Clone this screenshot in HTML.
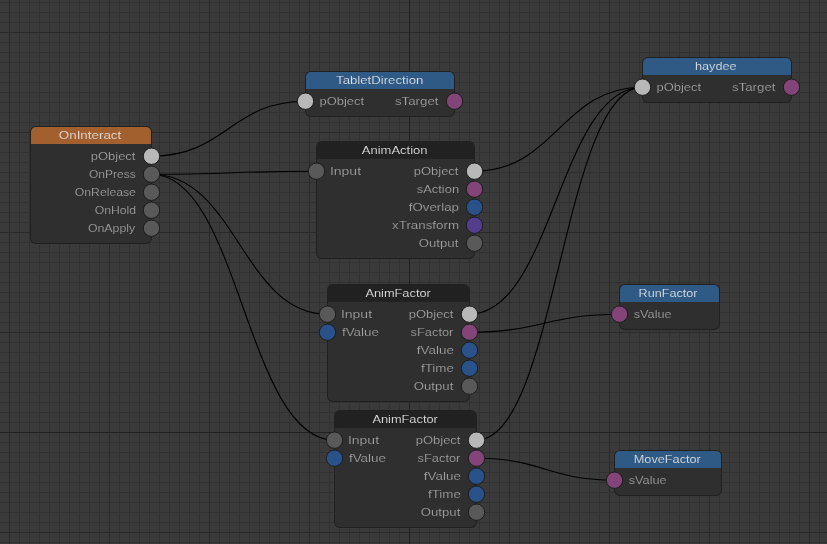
<!DOCTYPE html>
<html><head><meta charset="utf-8"><style>
html,body{margin:0;padding:0;width:827px;height:544px;overflow:hidden;background:#3a3a3a}
</style></head><body>
<svg width="827" height="544" viewBox="0 0 827 544" style="position:absolute;left:0;top:0;will-change:transform;font-family:'Liberation Sans',sans-serif;font-size:11.5px">
<rect width="827" height="544" fill="#3a3a3a"/>
<path d="M19 0h1v544h-1zM29 0h1v544h-1zM39 0h1v544h-1zM49 0h1v544h-1zM59 0h1v544h-1zM69 0h1v544h-1zM79 0h1v544h-1zM89 0h1v544h-1zM99 0h1v544h-1zM119 0h1v544h-1zM129 0h1v544h-1zM139 0h1v544h-1zM149 0h1v544h-1zM159 0h1v544h-1zM169 0h1v544h-1zM179 0h1v544h-1zM189 0h1v544h-1zM199 0h1v544h-1zM219 0h1v544h-1zM229 0h1v544h-1zM239 0h1v544h-1zM249 0h1v544h-1zM259 0h1v544h-1zM269 0h1v544h-1zM279 0h1v544h-1zM289 0h1v544h-1zM299 0h1v544h-1zM319 0h1v544h-1zM329 0h1v544h-1zM339 0h1v544h-1zM349 0h1v544h-1zM359 0h1v544h-1zM369 0h1v544h-1zM379 0h1v544h-1zM389 0h1v544h-1zM399 0h1v544h-1zM419 0h1v544h-1zM429 0h1v544h-1zM439 0h1v544h-1zM449 0h1v544h-1zM459 0h1v544h-1zM469 0h1v544h-1zM479 0h1v544h-1zM489 0h1v544h-1zM499 0h1v544h-1zM519 0h1v544h-1zM529 0h1v544h-1zM539 0h1v544h-1zM549 0h1v544h-1zM559 0h1v544h-1zM569 0h1v544h-1zM579 0h1v544h-1zM589 0h1v544h-1zM599 0h1v544h-1zM619 0h1v544h-1zM629 0h1v544h-1zM639 0h1v544h-1zM649 0h1v544h-1zM659 0h1v544h-1zM669 0h1v544h-1zM679 0h1v544h-1zM689 0h1v544h-1zM699 0h1v544h-1zM719 0h1v544h-1zM729 0h1v544h-1zM739 0h1v544h-1zM749 0h1v544h-1zM759 0h1v544h-1zM769 0h1v544h-1zM779 0h1v544h-1zM789 0h1v544h-1zM799 0h1v544h-1zM819 0h1v544h-1zM0 2h827v1h-827zM0 12h827v1h-827zM0 22h827v1h-827zM0 42h827v1h-827zM0 52h827v1h-827zM0 62h827v1h-827zM0 72h827v1h-827zM0 82h827v1h-827zM0 92h827v1h-827zM0 102h827v1h-827zM0 112h827v1h-827zM0 122h827v1h-827zM0 142h827v1h-827zM0 152h827v1h-827zM0 162h827v1h-827zM0 172h827v1h-827zM0 182h827v1h-827zM0 192h827v1h-827zM0 202h827v1h-827zM0 212h827v1h-827zM0 222h827v1h-827zM0 242h827v1h-827zM0 252h827v1h-827zM0 262h827v1h-827zM0 272h827v1h-827zM0 282h827v1h-827zM0 292h827v1h-827zM0 302h827v1h-827zM0 312h827v1h-827zM0 322h827v1h-827zM0 342h827v1h-827zM0 352h827v1h-827zM0 362h827v1h-827zM0 372h827v1h-827zM0 382h827v1h-827zM0 392h827v1h-827zM0 402h827v1h-827zM0 412h827v1h-827zM0 422h827v1h-827zM0 442h827v1h-827zM0 452h827v1h-827zM0 462h827v1h-827zM0 472h827v1h-827zM0 482h827v1h-827zM0 492h827v1h-827zM0 502h827v1h-827zM0 512h827v1h-827zM0 522h827v1h-827zM0 542h827v1h-827z" fill="#313131"/>
<path d="M9 0h1v544h-1zM109 0h1v544h-1zM209 0h1v544h-1zM309 0h1v544h-1zM509 0h1v544h-1zM609 0h1v544h-1zM709 0h1v544h-1zM809 0h1v544h-1zM0 32h827v1h-827zM0 132h827v1h-827zM0 232h827v1h-827zM0 332h827v1h-827zM0 532h827v1h-827z" fill="#292929"/>
<path d="M409 0h1v544h-1zM0 432h827v1h-827z" fill="#202020"/>
<path d="M151.5,156.20 C225.42,156.20 231.58,101.20 305.5,101.20" fill="none" stroke="#000000" stroke-width="1.15"/>
<path d="M151.5,174.20 C230.70,174.20 237.30,171.20 316.5,171.20" fill="none" stroke="#000000" stroke-width="1.15"/>
<path d="M151.5,174.20 C235.98,174.20 243.02,314.20 327.5,314.20" fill="none" stroke="#000000" stroke-width="1.15"/>
<path d="M151.5,174.20 C239.34,174.20 246.66,440.20 334.5,440.20" fill="none" stroke="#000000" stroke-width="1.15"/>
<path d="M474.5,171.20 C555.14,171.20 561.86,87.20 642.5,87.20" fill="none" stroke="#000000" stroke-width="1.15"/>
<path d="M469.5,314.20 C552.54,314.20 559.46,87.20 642.5,87.20" fill="none" stroke="#000000" stroke-width="1.15"/>
<path d="M476.5,440.20 C556.18,440.20 562.82,87.20 642.5,87.20" fill="none" stroke="#000000" stroke-width="1.15"/>
<path d="M469.5,332.20 C541.50,332.20 547.50,314.20 619.5,314.20" fill="none" stroke="#000000" stroke-width="1.15"/>
<path d="M476.5,458.20 C542.74,458.20 548.26,480.20 614.5,480.20" fill="none" stroke="#000000" stroke-width="1.15"/>
<rect x="30" y="126" width="122" height="118" rx="6" fill="#202020"/>
<rect x="31" y="127" width="120" height="116" rx="5" fill="#2f2f2f"/>
<path d="M31,144 V132 A5,5 0 0 1 36,127 H146 A5,5 0 0 1 151,132 V144 Z" fill="#a3602f"/>
<text x="58.80" y="139.10" textLength="62.45" lengthAdjust="spacingAndGlyphs" fill="#e2e2e2" stroke="#a3602f" stroke-width="0.15">OnInteract</text>
<text x="90.75" y="160.05" textLength="44.7" lengthAdjust="spacingAndGlyphs" fill="#a2a2a2" stroke="#2f2f2f" stroke-width="0.15">pObject</text>
<text x="88.90" y="178.05" textLength="46.85" lengthAdjust="spacingAndGlyphs" fill="#a2a2a2" stroke="#2f2f2f" stroke-width="0.15">OnPress</text>
<text x="74.85" y="196.05" textLength="61.05" lengthAdjust="spacingAndGlyphs" fill="#a2a2a2" stroke="#2f2f2f" stroke-width="0.15">OnRelease</text>
<text x="94.70" y="214.05" textLength="41.4" lengthAdjust="spacingAndGlyphs" fill="#a2a2a2" stroke="#2f2f2f" stroke-width="0.15">OnHold</text>
<text x="87.90" y="232.05" textLength="47.35" lengthAdjust="spacingAndGlyphs" fill="#a2a2a2" stroke="#2f2f2f" stroke-width="0.15">OnApply</text>
<circle cx="151.5" cy="156.20" r="8.2" fill="#b8b8b8" stroke="#1c1c1c" stroke-width="1.0"/>
<circle cx="151.5" cy="174.20" r="8.2" fill="#595959" stroke="#1c1c1c" stroke-width="1.0"/>
<circle cx="151.5" cy="192.20" r="8.2" fill="#595959" stroke="#1c1c1c" stroke-width="1.0"/>
<circle cx="151.5" cy="210.20" r="8.2" fill="#595959" stroke="#1c1c1c" stroke-width="1.0"/>
<circle cx="151.5" cy="228.20" r="8.2" fill="#595959" stroke="#1c1c1c" stroke-width="1.0"/>
<rect x="305" y="71" width="150" height="46" rx="6" fill="#202020"/>
<rect x="306" y="72" width="148" height="44" rx="5" fill="#2f2f2f"/>
<path d="M306,89 V77 A5,5 0 0 1 311,72 H449 A5,5 0 0 1 454,77 V89 Z" fill="#2e5a85"/>
<text x="336.05" y="84.10" textLength="87.3" lengthAdjust="spacingAndGlyphs" fill="#e2e2e2" stroke="#2e5a85" stroke-width="0.15">TabletDirection</text>
<text x="319.45" y="105.05" textLength="44.7" lengthAdjust="spacingAndGlyphs" fill="#a2a2a2" stroke="#2f2f2f" stroke-width="0.15">pObject</text>
<text x="395.00" y="105.05" textLength="43.45" lengthAdjust="spacingAndGlyphs" fill="#a2a2a2" stroke="#2f2f2f" stroke-width="0.15">sTarget</text>
<circle cx="305.5" cy="101.20" r="8.2" fill="#b8b8b8" stroke="#1c1c1c" stroke-width="1.0"/>
<circle cx="454.5" cy="101.20" r="8.2" fill="#834479" stroke="#1c1c1c" stroke-width="1.0"/>
<rect x="642" y="57" width="150" height="46" rx="6" fill="#202020"/>
<rect x="643" y="58" width="148" height="44" rx="5" fill="#2f2f2f"/>
<path d="M643,75 V63 A5,5 0 0 1 648,58 H786 A5,5 0 0 1 791,63 V75 Z" fill="#2e5a85"/>
<text x="694.95" y="70.10" textLength="41.6" lengthAdjust="spacingAndGlyphs" fill="#e2e2e2" stroke="#2e5a85" stroke-width="0.15">haydee</text>
<text x="656.45" y="91.05" textLength="44.7" lengthAdjust="spacingAndGlyphs" fill="#a2a2a2" stroke="#2f2f2f" stroke-width="0.15">pObject</text>
<text x="732.00" y="91.05" textLength="43.45" lengthAdjust="spacingAndGlyphs" fill="#a2a2a2" stroke="#2f2f2f" stroke-width="0.15">sTarget</text>
<circle cx="642.5" cy="87.20" r="8.2" fill="#b8b8b8" stroke="#1c1c1c" stroke-width="1.0"/>
<circle cx="791.5" cy="87.20" r="8.2" fill="#834479" stroke="#1c1c1c" stroke-width="1.0"/>
<rect x="316" y="141" width="159" height="118" rx="6" fill="#202020"/>
<rect x="317" y="142" width="157" height="116" rx="5" fill="#2f2f2f"/>
<path d="M317,159 V147 A5,5 0 0 1 322,142 H469 A5,5 0 0 1 474,147 V159 Z" fill="#212121"/>
<text x="361.80" y="154.10" textLength="65.7" lengthAdjust="spacingAndGlyphs" fill="#e2e2e2" stroke="#212121" stroke-width="0.15">AnimAction</text>
<text x="329.95" y="175.05" textLength="31.1" lengthAdjust="spacingAndGlyphs" fill="#a2a2a2" stroke="#2f2f2f" stroke-width="0.15">Input</text>
<text x="413.75" y="175.05" textLength="44.7" lengthAdjust="spacingAndGlyphs" fill="#a2a2a2" stroke="#2f2f2f" stroke-width="0.15">pObject</text>
<text x="416.70" y="193.05" textLength="42.4" lengthAdjust="spacingAndGlyphs" fill="#a2a2a2" stroke="#2f2f2f" stroke-width="0.15">sAction</text>
<text x="408.75" y="211.05" textLength="50.2" lengthAdjust="spacingAndGlyphs" fill="#a2a2a2" stroke="#2f2f2f" stroke-width="0.15">fOverlap</text>
<text x="392.05" y="229.05" textLength="67.0" lengthAdjust="spacingAndGlyphs" fill="#a2a2a2" stroke="#2f2f2f" stroke-width="0.15">xTransform</text>
<text x="418.80" y="247.05" textLength="39.5" lengthAdjust="spacingAndGlyphs" fill="#a2a2a2" stroke="#2f2f2f" stroke-width="0.15">Output</text>
<circle cx="316.5" cy="171.20" r="8.2" fill="#595959" stroke="#1c1c1c" stroke-width="1.0"/>
<circle cx="474.5" cy="171.20" r="8.2" fill="#b8b8b8" stroke="#1c1c1c" stroke-width="1.0"/>
<circle cx="474.5" cy="189.20" r="8.2" fill="#834479" stroke="#1c1c1c" stroke-width="1.0"/>
<circle cx="474.5" cy="207.20" r="8.2" fill="#29528b" stroke="#1c1c1c" stroke-width="1.0"/>
<circle cx="474.5" cy="225.20" r="8.2" fill="#533e8e" stroke="#1c1c1c" stroke-width="1.0"/>
<circle cx="474.5" cy="243.20" r="8.2" fill="#595959" stroke="#1c1c1c" stroke-width="1.0"/>
<rect x="327" y="284" width="143" height="118" rx="6" fill="#202020"/>
<rect x="328" y="285" width="141" height="116" rx="5" fill="#2f2f2f"/>
<path d="M328,302 V290 A5,5 0 0 1 333,285 H464 A5,5 0 0 1 469,290 V302 Z" fill="#212121"/>
<text x="365.40" y="297.10" textLength="65.45" lengthAdjust="spacingAndGlyphs" fill="#e2e2e2" stroke="#212121" stroke-width="0.15">AnimFactor</text>
<text x="340.95" y="318.05" textLength="31.1" lengthAdjust="spacingAndGlyphs" fill="#a2a2a2" stroke="#2f2f2f" stroke-width="0.15">Input</text>
<text x="341.95" y="336.05" textLength="37.05" lengthAdjust="spacingAndGlyphs" fill="#a2a2a2" stroke="#2f2f2f" stroke-width="0.15">fValue</text>
<text x="408.75" y="318.05" textLength="44.7" lengthAdjust="spacingAndGlyphs" fill="#a2a2a2" stroke="#2f2f2f" stroke-width="0.15">pObject</text>
<text x="410.60" y="336.05" textLength="42.8" lengthAdjust="spacingAndGlyphs" fill="#a2a2a2" stroke="#2f2f2f" stroke-width="0.15">sFactor</text>
<text x="416.85" y="354.05" textLength="37.05" lengthAdjust="spacingAndGlyphs" fill="#a2a2a2" stroke="#2f2f2f" stroke-width="0.15">fValue</text>
<text x="420.95" y="372.05" textLength="32.9" lengthAdjust="spacingAndGlyphs" fill="#a2a2a2" stroke="#2f2f2f" stroke-width="0.15">fTime</text>
<text x="413.80" y="390.05" textLength="39.5" lengthAdjust="spacingAndGlyphs" fill="#a2a2a2" stroke="#2f2f2f" stroke-width="0.15">Output</text>
<circle cx="327.5" cy="314.20" r="8.2" fill="#595959" stroke="#1c1c1c" stroke-width="1.0"/>
<circle cx="327.5" cy="332.20" r="8.2" fill="#29528b" stroke="#1c1c1c" stroke-width="1.0"/>
<circle cx="469.5" cy="314.20" r="8.2" fill="#b8b8b8" stroke="#1c1c1c" stroke-width="1.0"/>
<circle cx="469.5" cy="332.20" r="8.2" fill="#834479" stroke="#1c1c1c" stroke-width="1.0"/>
<circle cx="469.5" cy="350.20" r="8.2" fill="#29528b" stroke="#1c1c1c" stroke-width="1.0"/>
<circle cx="469.5" cy="368.20" r="8.2" fill="#29528b" stroke="#1c1c1c" stroke-width="1.0"/>
<circle cx="469.5" cy="386.20" r="8.2" fill="#595959" stroke="#1c1c1c" stroke-width="1.0"/>
<rect x="334" y="410" width="143" height="118" rx="6" fill="#202020"/>
<rect x="335" y="411" width="141" height="116" rx="5" fill="#2f2f2f"/>
<path d="M335,428 V416 A5,5 0 0 1 340,411 H471 A5,5 0 0 1 476,416 V428 Z" fill="#212121"/>
<text x="372.40" y="423.10" textLength="65.45" lengthAdjust="spacingAndGlyphs" fill="#e2e2e2" stroke="#212121" stroke-width="0.15">AnimFactor</text>
<text x="347.95" y="444.05" textLength="31.1" lengthAdjust="spacingAndGlyphs" fill="#a2a2a2" stroke="#2f2f2f" stroke-width="0.15">Input</text>
<text x="348.95" y="462.05" textLength="37.05" lengthAdjust="spacingAndGlyphs" fill="#a2a2a2" stroke="#2f2f2f" stroke-width="0.15">fValue</text>
<text x="415.75" y="444.05" textLength="44.7" lengthAdjust="spacingAndGlyphs" fill="#a2a2a2" stroke="#2f2f2f" stroke-width="0.15">pObject</text>
<text x="417.60" y="462.05" textLength="42.8" lengthAdjust="spacingAndGlyphs" fill="#a2a2a2" stroke="#2f2f2f" stroke-width="0.15">sFactor</text>
<text x="423.85" y="480.05" textLength="37.05" lengthAdjust="spacingAndGlyphs" fill="#a2a2a2" stroke="#2f2f2f" stroke-width="0.15">fValue</text>
<text x="427.95" y="498.05" textLength="32.9" lengthAdjust="spacingAndGlyphs" fill="#a2a2a2" stroke="#2f2f2f" stroke-width="0.15">fTime</text>
<text x="420.80" y="516.05" textLength="39.5" lengthAdjust="spacingAndGlyphs" fill="#a2a2a2" stroke="#2f2f2f" stroke-width="0.15">Output</text>
<circle cx="334.5" cy="440.20" r="8.2" fill="#595959" stroke="#1c1c1c" stroke-width="1.0"/>
<circle cx="334.5" cy="458.20" r="8.2" fill="#29528b" stroke="#1c1c1c" stroke-width="1.0"/>
<circle cx="476.5" cy="440.20" r="8.2" fill="#b8b8b8" stroke="#1c1c1c" stroke-width="1.0"/>
<circle cx="476.5" cy="458.20" r="8.2" fill="#834479" stroke="#1c1c1c" stroke-width="1.0"/>
<circle cx="476.5" cy="476.20" r="8.2" fill="#29528b" stroke="#1c1c1c" stroke-width="1.0"/>
<circle cx="476.5" cy="494.20" r="8.2" fill="#29528b" stroke="#1c1c1c" stroke-width="1.0"/>
<circle cx="476.5" cy="512.20" r="8.2" fill="#595959" stroke="#1c1c1c" stroke-width="1.0"/>
<rect x="619" y="284" width="101" height="46" rx="6" fill="#202020"/>
<rect x="620" y="285" width="99" height="44" rx="5" fill="#2f2f2f"/>
<path d="M620,302 V290 A5,5 0 0 1 625,285 H714 A5,5 0 0 1 719,290 V302 Z" fill="#2e5a85"/>
<text x="638.60" y="297.10" textLength="58.95" lengthAdjust="spacingAndGlyphs" fill="#e2e2e2" stroke="#2e5a85" stroke-width="0.15">RunFactor</text>
<text x="633.70" y="318.05" textLength="38.0" lengthAdjust="spacingAndGlyphs" fill="#a2a2a2" stroke="#2f2f2f" stroke-width="0.15">sValue</text>
<circle cx="619.5" cy="314.20" r="8.2" fill="#834479" stroke="#1c1c1c" stroke-width="1.0"/>
<rect x="614" y="450" width="108" height="46" rx="6" fill="#202020"/>
<rect x="615" y="451" width="106" height="44" rx="5" fill="#2f2f2f"/>
<path d="M615,468 V456 A5,5 0 0 1 620,451 H716 A5,5 0 0 1 721,456 V468 Z" fill="#2e5a85"/>
<text x="633.75" y="463.10" textLength="67.1" lengthAdjust="spacingAndGlyphs" fill="#e2e2e2" stroke="#2e5a85" stroke-width="0.15">MoveFactor</text>
<text x="628.70" y="484.05" textLength="38.0" lengthAdjust="spacingAndGlyphs" fill="#a2a2a2" stroke="#2f2f2f" stroke-width="0.15">sValue</text>
<circle cx="614.5" cy="480.20" r="8.2" fill="#834479" stroke="#1c1c1c" stroke-width="1.0"/>
</svg>
</body></html>
